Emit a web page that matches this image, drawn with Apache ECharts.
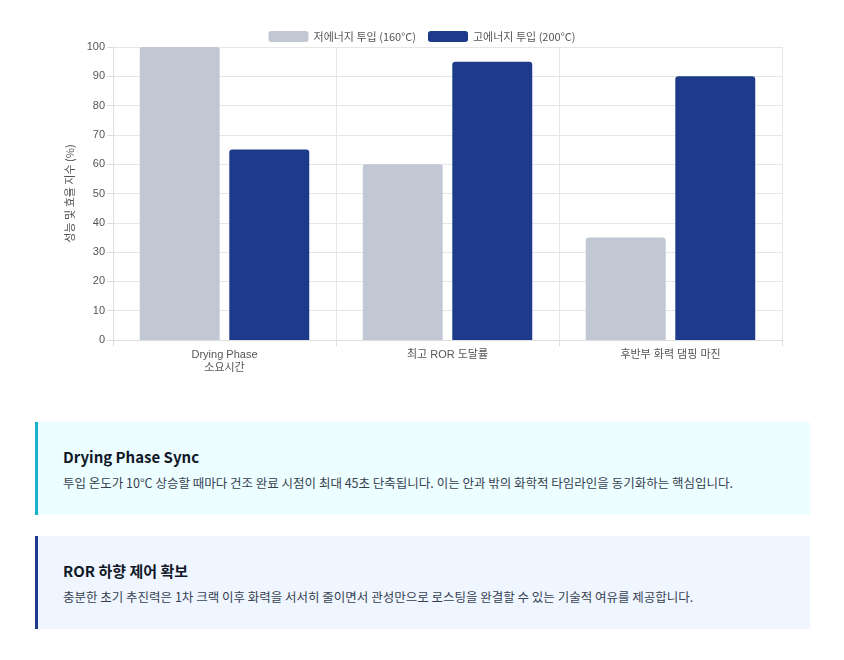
<!DOCTYPE html>
<html>
<head>
<meta charset="UTF-8">
<script src="https://cdn.jsdelivr.net/npm/echarts@6/dist/echarts.min.js"></script>
<style>
body{margin:0;background:#fff;font-family:"Noto Sans CJK KR","Noto Sans",sans-serif;}
#main{position:absolute;left:0;top:0;width:844px;height:390px;}
.card{position:absolute;left:35px;width:735px;padding:0 0 0 22px;height:93px;box-sizing:border-box;}
.card h3{margin:0;position:absolute;top:24px;left:25px;font-size:15px;font-weight:700;color:#111827;}
.card p{margin:0;position:absolute;top:51px;left:25px;font-size:12.5px;color:#374151;white-space:nowrap;}
</style>
</head>
<body>
<div id="main"></div>
<div class="card" style="top:422px;width:775px;background:#ecfeff;border-left:3px solid #17b3c9;">
<h3>Drying Phase Sync</h3>
<p>투입 온도가 10°C 상승할 때마다 건조 완료 시점이 최대 45초 단축됩니다. 이는 안과 밖의 화학적 타임라인을 동기화하는 핵심입니다.</p>
</div>
<div class="card" style="top:536px;width:775px;background:#eff6ff;border-left:3px solid #1e3a8a;">
<h3>ROR 하향 제어 확보</h3>
<p>충분한 초기 추진력은 1차 크랙 이후 화력을 서서히 줄이면서 관성만으로 로스팅을 완결할 수 있는 기술적 여유를 제공합니다.</p>
</div>
<script>
var categories=['Drying Phase\n소요시간','최고 ROR 도달률','후반부 화력 댐핑 마진'];
var lowEnergy=[100,60,35];
var highEnergy=[65,95,90];
var yTicks={min:0,max:100,interval:10};

var myChart=echarts.init(document.getElementById('main'));
var font='"Noto Sans CJK KR","Noto Sans",sans-serif';
myChart.setOption({
  animation:false,
  textStyle:{fontFamily:font},
  legend:{
    top:26,left:'center',itemWidth:40,itemHeight:11,itemGap:12,
    textStyle:{color:'#555',fontSize:11},
    data:['저에너지 투입 (160°C)','고에너지 투입 (200°C)']
  },
  grid:{left:113,right:62,top:47,bottom:50},
  xAxis:{
    type:'category',data:categories,
    axisLine:{lineStyle:{color:'#ddd'}},
    axisTick:{show:true,length:6,lineStyle:{color:'#ddd'}},
    splitLine:{show:true,lineStyle:{color:'#e6e6e6'}},
    axisLabel:{color:'#555',fontSize:11,lineHeight:13,fontFamily:'Liberation Sans,'+font}
  },
  yAxis:{
    type:'value',min:yTicks.min,max:yTicks.max,interval:yTicks.interval,
    name:'성능 및 효율 지수 (%)',nameLocation:'middle',nameGap:38,
    nameTextStyle:{color:'#555',fontSize:11},
    axisLine:{show:true,lineStyle:{color:'#ddd'}},
    axisTick:{show:true,length:6,lineStyle:{color:'#ddd'}},
    splitLine:{lineStyle:{color:'#e6e6e6'}},
    axisLabel:{color:'#555',fontSize:11,fontFamily:'Liberation Sans,'+font}
  },
  series:[
    {name:'저에너지 투입 (160°C)',type:'bar',data:lowEnergy,barCategoryGap:'24%',barGap:'12%',
     itemStyle:{color:'#c1c8d4',borderRadius:[3,3,0,0]}},
    {name:'고에너지 투입 (200°C)',type:'bar',data:highEnergy,
     itemStyle:{color:'#1e3a8a',borderRadius:[3,3,0,0]}}
  ]
});
</script>
</body>
</html>
